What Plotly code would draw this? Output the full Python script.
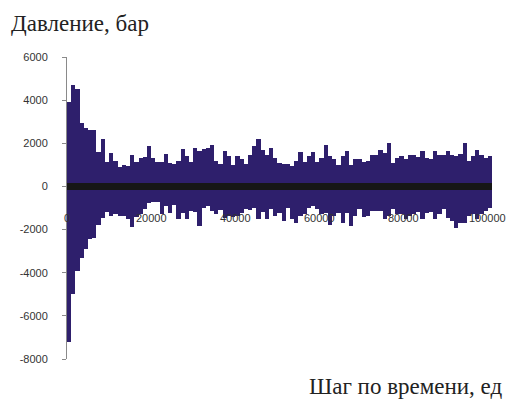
import plotly.graph_objects as go

# time-step bins (start of each 1000-step bin)
bin_width = 1000
bin_start = list(range(0, 101000, 1000))

upper = [3900, 4700, 4500, 2960, 2700, 2600, 2600, 1600, 2220, 1110,
         1570, 1200, 880, 1000, 940, 1480, 1150, 1300, 1350, 1860,
         1300, 1120, 1130, 1500, 1100, 1050, 1200, 1740, 1400, 1150,
         1790, 1650, 1740, 1790, 1900, 1200, 1020, 1640, 1400, 1000,
         1400, 1280, 1020, 1450, 1870, 2200, 1700, 1470, 1790, 1330,
         1100, 1050, 1050, 950, 1200, 1600, 1150, 1400, 1600, 1150,
         1330, 1900, 1400, 1250, 1000, 1400, 1640, 1000, 1280, 1250,
         1150, 1200, 1450, 1470, 1680, 1550, 2020, 1100, 1330, 1400,
         1250, 1470, 1450, 1350, 1650, 1330, 1250, 1640, 1470, 1480,
         1640, 1470, 1400, 1500, 2000, 1180, 1400, 1700, 1470, 1300,
         1400]

lower = [-7200, -5000, -3900, -3300, -2890, -2450, -2400, -1800, -1450, -1190,
         -1370, -1300, -1370, -1350, -1500, -1880, -1400, -1300, -1060, -790,
         -700, -700, -1300, -910, -1220, -840, -1530, -1220, -1530, -1140,
         -1200, -1840, -1020, -910, -1140, -1300, -1100, -1450, -1370, -1400,
         -1370, -1220, -1060, -1100, -990, -1530, -1200, -1500, -1060, -1370,
         -1220, -1600, -990, -1530, -1690, -1370, -1300, -990, -910, -1060,
         -1300, -1220, -1800, -1370, -1220, -1690, -1220, -1840, -1370, -1060,
         -1400, -1370, -1140, -1140, -1150, -1530, -1370, -1060, -1300, -1300,
         -1530, -1370, -1300, -1200, -1530, -1220, -1200, -1530, -1300, -1060,
         -1450, -1600, -1920, -1690, -1700, -1370, -1300, -1530, -1300, -1140,
         -990]

x_ticks = [0, 20000, 40000, 60000, 80000, 100000]
y_ticks = [-8000, -6000, -4000, -2000, 0, 2000, 4000, 6000]

y_title = "Давление, бар"
x_title = "Шаг по времени, ед"

W, H = 506, 401
L, R, T, B = 67, 14, 57, 42
SERIF = "Liberation Serif"
SANS = "Liberation Sans"

fig = go.Figure()

centers = [s + bin_width / 2 for s in bin_start]
fig.add_trace(go.Bar(
    x=centers,
    y=[u - l for u, l in zip(upper, lower)],
    base=lower,
    width=bin_width,
    marker=dict(color="#2E1F6C", line=dict(width=0)),
    hoverinfo="skip",
))

# zero line (thick black)
fig.add_trace(go.Scatter(
    x=[bin_start[0], bin_start[-1] + bin_width],
    y=[0, 0],
    mode="lines",
    line=dict(color="#161616", width=7),
    hoverinfo="skip",
))

# x tick labels sit just below the zero line
for xv in x_ticks:
    fig.add_annotation(
        x=xv, y=0, xref="x", yref="y",
        text=str(xv), showarrow=False,
        yanchor="middle", xanchor="center", yshift=-32,
        font=dict(family=SANS, size=11, color="#333333"),
    )

def px_x(px):
    return (px - L) / (W - L - R)

def px_y(py):
    return (H - B - py) / (H - T - B)

fig.add_annotation(
    x=px_x(9), y=px_y(9), xref="paper", yref="paper",
    xanchor="left", yanchor="top", showarrow=False,
    text=y_title,
    font=dict(family=SERIF, size=23, color="#222222"),
)
fig.add_annotation(
    x=px_x(505), y=px_y(401), xref="paper", yref="paper",
    xanchor="right", yanchor="bottom", showarrow=False,
    text=x_title,
    font=dict(family=SERIF, size=23, color="#222222"),
)

fig.update_layout(
    width=W, height=H,
    margin=dict(l=L, r=R, t=T, b=B),
    paper_bgcolor="white",
    plot_bgcolor="white",
    showlegend=False,
    bargap=0,
    xaxis=dict(
        range=[0, 101000],
        showgrid=False, zeroline=False, showline=False,
        showticklabels=False, ticks="",
    ),
    yaxis=dict(
        range=[-8000, 6000],
        tickvals=y_ticks,
        ticktext=[str(v) for v in y_ticks],
        showgrid=False, zeroline=False,
        showline=True, linecolor="#8a8a8a", linewidth=1,
        ticks="outside", ticklen=4, tickcolor="#8a8a8a",
        ticklabelstandoff=12,
        tickfont=dict(family=SANS, size=11, color="#333333"),
    ),
)

fig.write_html("out.html")
